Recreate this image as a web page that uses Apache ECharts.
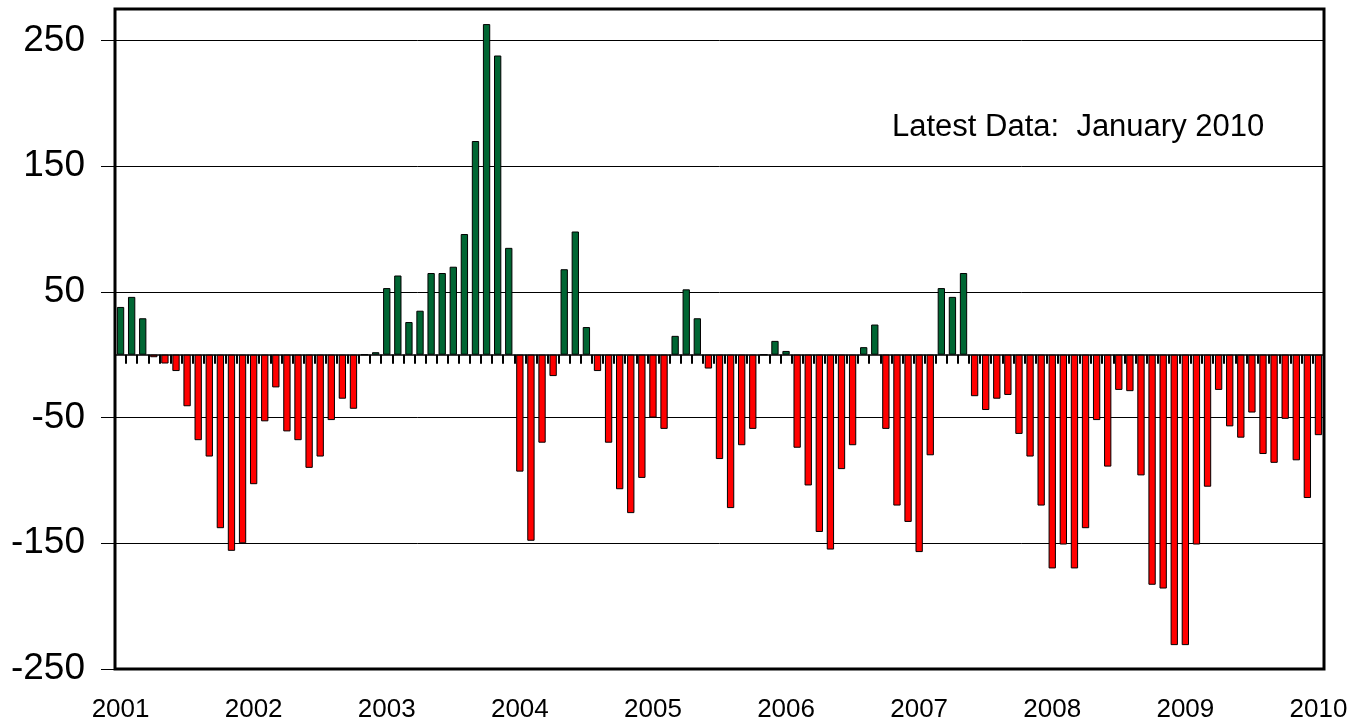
<!DOCTYPE html>
<html>
<head>
<meta charset="utf-8">
<script src="https://cdn.jsdelivr.net/npm/echarts@6/dist/echarts.min.js"></script>
<style>
html,body{margin:0;padding:0;background:#fff;}
#chart{width:1355px;height:725px;}
</style>
</head>
<body>
<div id="chart"></div>
<script>
// ---- Data (monthly values, Jan 2001 .. Jan 2010) ----
const years = [2001, 2002, 2003, 2004, 2005, 2006, 2007, 2008, 2009, 2010];
const monthNames = ['Jan','Feb','Mar','Apr','May','Jun','Jul','Aug','Sep','Oct','Nov','Dec'];

const values2001 = [38, 46, 29, -2, -7, -13, -41, -68, -81, -138, -156, -150];
const values2002 = [-103, -53, -26, -61, -68, -90, -81, -52, -35, -43, 0, 2];
const values2003 = [53, 63, 26, 35, 65, 65, 70, 96, 170, 263, 238, 85];
const values2004 = [-93, -148, -70, -17, 68, 98, 22, -13, -70, -107, -126, -98];
const values2005 = [-50, -59, 15, 52, 29, -11, -83, -122, -72, -59, 0, 11];
const values2006 = [3, -74, -104, -141, -155, -91, -72, 6, 24, -59, -120, -133];
const values2007 = [-157, -80, 53, 46, 65, -33, -44, -35, -32, -63, -81, -120];
const values2008 = [-170, -151, -170, -138, -52, -89, -28, -29, -96, -183, -186, -231];
const values2009 = [-231, -151, -105, -28, -57, -66, -46, -79, -86, -51, -84, -114];
const values2010 = [-64];

const yearLabels = ['2001','2002','2003','2004','2005','2006','2007','2008','2009','2010'];
const yTickValues = [-250, -150, -50, 50, 150, 250];
const annotation = 'Latest Data:  January 2010';

// ---- Build series / categories ----
const values = [].concat(values2001, values2002, values2003, values2004, values2005,
                         values2006, values2007, values2008, values2009, values2010);
const categories = [];
years.forEach(function (y) {
  monthNames.forEach(function (m) { categories.push(m + ' ' + y); });
});
categories.length = values.length;

const GREEN = '#006633';
const RED = '#ff0000';
const FONT = 'Liberation Sans, Arial, Helvetica, sans-serif';

const chart = echarts.init(document.getElementById('chart'), null, {renderer: 'canvas'});
chart.setOption({
  animation: false,
  backgroundColor: '#ffffff',
  grid: {
    left: 115, right: 31, top: 9, bottom: 56,
    show: true, borderColor: '#000', borderWidth: 3, backgroundColor: 'transparent'
  },
  xAxis: [
    {
      type: 'category',
      data: categories,
      position: 'bottom',
      boundaryGap: true,
      axisLine: {show: true, onZero: true, lineStyle: {color: '#000', width: 1.5}},
      axisTick: {show: true, interval: 0, length: 9, lineStyle: {color: '#000', width: 2}},
      axisLabel: {show: false},
      splitLine: {show: false}
    },
    {
      type: 'category',
      data: categories,
      position: 'bottom',
      boundaryGap: true,
      axisLine: {show: false, onZero: false},
      axisTick: {show: false},
      splitLine: {show: false},
      axisLabel: {
        show: true,
        interval: 11,
        margin: 28,
        color: '#000',
        fontSize: 26,
        fontFamily: FONT,
        formatter: function (v, i) { return yearLabels[Math.round(i / 12)]; }
      }
    }
  ],
  yAxis: {
    type: 'value',
    min: -250,
    max: 275,
    interval: 100,
    axisLine: {show: false},
    axisTick: {show: true, length: 14, lineStyle: {color: '#000', width: 1}, customValues: yTickValues},
    axisLabel: {
      show: true, margin: 30, color: '#000', fontSize: 37, fontFamily: FONT,
      customValues: yTickValues,
      formatter: function (v) { return yTickValues.indexOf(v) >= 0 ? String(v) : ''; }
    },
    splitLine: {show: true, lineStyle: {color: '#000', width: 1}}
  },
  series: [{
    type: 'bar',
    xAxisIndex: 0,
    yAxisIndex: 0,
    data: values,
    barCategoryGap: '34%',
    itemStyle: {
      color: function (p) { return p.value >= 0 ? GREEN : RED; },
      borderColor: '#000',
      borderWidth: 1
    }
  }],
  graphic: [{
    type: 'text',
    x: 892,
    y: 127,
    style: {
      text: annotation,
      fill: '#000',
      fontSize: 31,
      fontFamily: FONT,
      verticalAlign: 'middle',
      align: 'left'
    }
  }]
});
</script>
</body>
</html>
